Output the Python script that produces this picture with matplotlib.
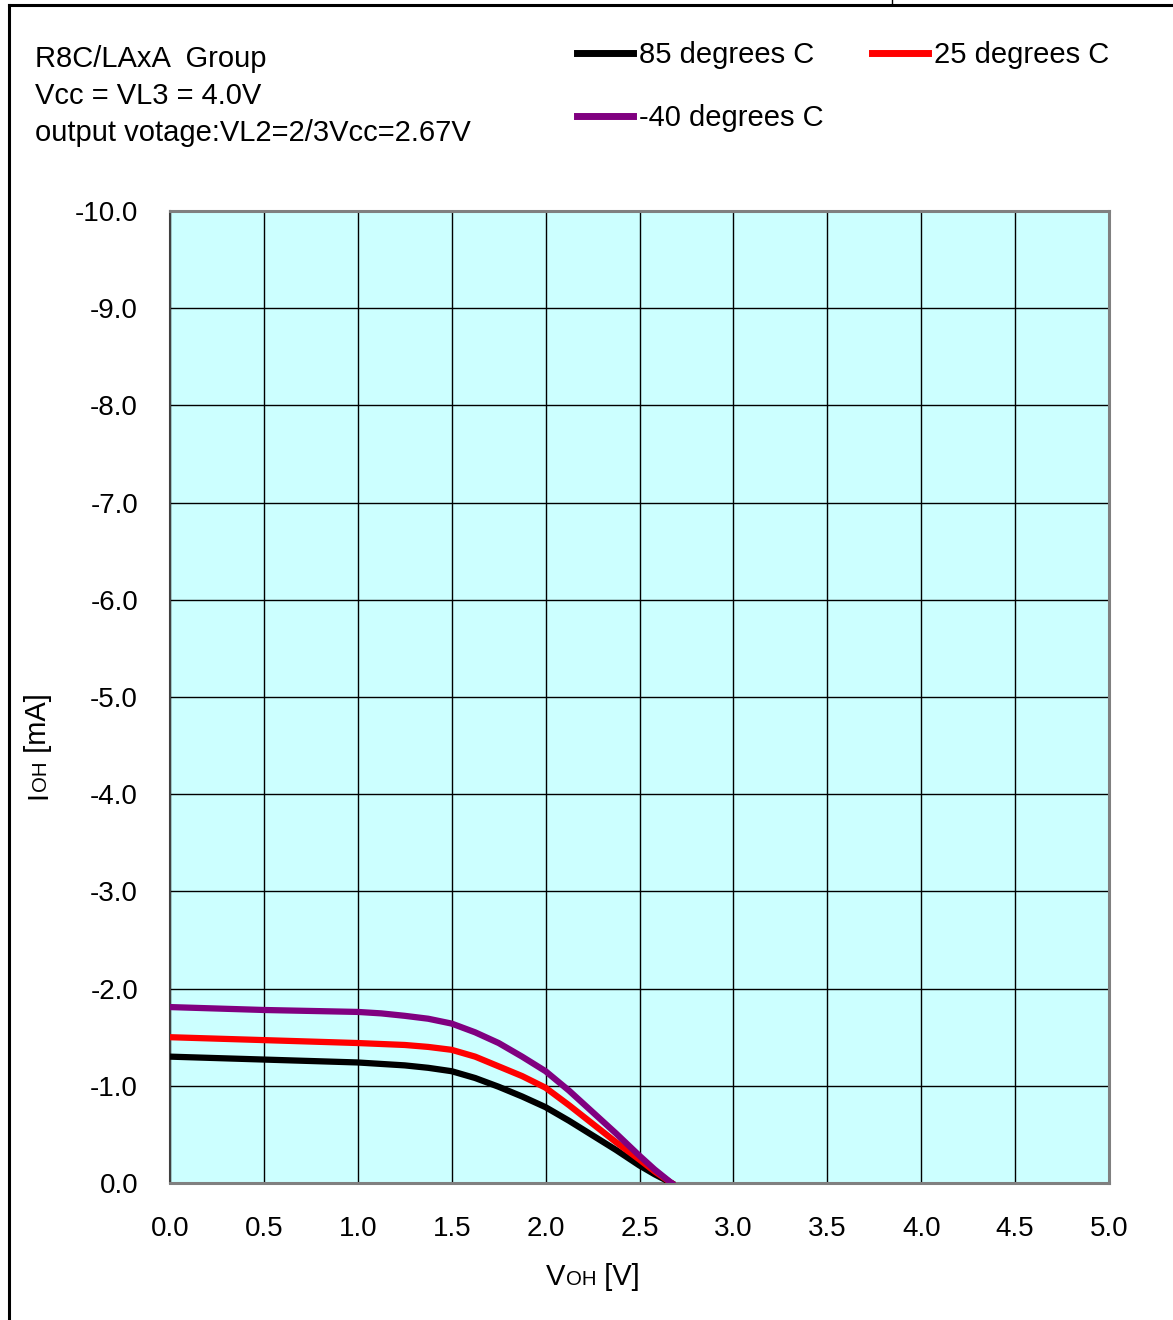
#!/usr/bin/env python
# VOH - IOH characteristics, three temperatures

import numpy as np
import matplotlib
matplotlib.use('Agg')
import matplotlib.pyplot as plt
from matplotlib.lines import Line2D

plt.rcParams['font.family'] = ['Liberation Sans', 'DejaVu Sans']

# data (V, mA)
voh = [0.0, 0.5, 1.0, 1.125, 1.25, 1.375, 1.5, 1.625, 1.75, 1.875, 2.0,
       2.125, 2.25, 2.375, 2.5, 2.58, 2.67]
ioh_85 = [-1.30, -1.27, -1.24, -1.225, -1.21, -1.185, -1.15, -1.08, -0.99, -0.89, -0.78,
          -0.64, -0.49, -0.34, -0.18, -0.09, 0.0]
ioh_25 = [-1.50, -1.47, -1.44, -1.43, -1.42, -1.40, -1.37, -1.30, -1.20, -1.10, -0.98,
          -0.80, -0.61, -0.42, -0.24, -0.12, 0.0]
ioh_m40 = [-1.81, -1.78, -1.76, -1.745, -1.72, -1.69, -1.64, -1.55, -1.44, -1.30, -1.15,
           -0.95, -0.73, -0.51, -0.28, -0.14, 0.0]

x_ticks = np.arange(0, 5.01, 0.5)
y_ticks = np.arange(0, -10.01, -1.0)

info_lines = ['R8C/LAxA  Group', 'Vcc = VL3 = 4.0V', 'output votage:VL2=2/3Vcc=2.67V']

W, H = 1173, 1320
FS = 20      # tick labels
FS_T = 21    # texts and legend

fig = plt.figure(figsize=(W / 100, H / 100), dpi=100)
ax = fig.add_axes([170 / W, 137 / H, 939 / W, 972 / H])
ax.set_facecolor('#CCFFFF')

l85, = ax.plot(voh, ioh_85, color='black', lw=4.5, zorder=3)
l25, = ax.plot(voh, ioh_25, color='#FF0000', lw=4.5, zorder=4)
lm40, = ax.plot(voh, ioh_m40, color='#800080', lw=4.5, zorder=5)

ax.set_xlim(0, 5)
ax.set_ylim(0, -10)
ax.set_xticks(x_ticks)
ax.set_yticks(y_ticks)
ax.set_xticklabels(['%.1f' % v for v in x_ticks])
ax.set_yticklabels(['%.1f' % v if v != 0 else '0.0' for v in y_ticks])
ax.tick_params(axis='both', length=0, labelsize=FS)
ax.tick_params(axis='x', pad=24)
ax.tick_params(axis='y', pad=23)
ax.grid(color='black', lw=1.0)
ax.set_axisbelow(True)
for s in ['top', 'right', 'bottom']:
    ax.spines[s].set_color('#808080')
    ax.spines[s].set_linewidth(2.2)
ax.spines['left'].set_color('#404040')
ax.spines['left'].set_linewidth(1.5)

# info text upper left
for i, t in enumerate(info_lines):
    fig.text(35 / W, 1 - (67 + 37 * i) / H, t, fontsize=FS_T, ha='left', va='baseline')

# legend
leg = fig.legend([l85, lm40, l25], ['85 degrees C', '-40 degrees C', '25 degrees C'],
                 loc='upper left', bbox_to_anchor=(577 / W, 1 - 41 / H), ncol=2,
                 frameon=False, borderpad=0, borderaxespad=0, handlelength=1.92,
                 handletextpad=0.2, columnspacing=1.68, labelspacing=1.2, fontsize=FS_T)
for h in leg.legend_handles:
    h.set_linewidth(5)

# axis labels with small "OH"
renderer = fig.canvas.get_renderer()


def label_parts(parts, x, y, rotation=0):
    texts = []
    for s, size in parts:
        t = fig.text(0, 0, s, fontsize=size, ha='left', va='baseline',
                     rotation=rotation, rotation_mode='anchor')
        texts.append(t)
    lens = []
    for t in texts:
        bb = t.get_window_extent(renderer)
        lens.append(bb.height if rotation else bb.width)
    total = sum(lens)
    pos = -total / 2
    for t, L in zip(texts, lens):
        if rotation:
            t.set_position((x / W, (H - y + pos) / H))
        else:
            t.set_position(((x + pos) / W, 1 - y / H))
        pos += L


label_parts([('V', FS_T), ('OH', FS_T * 0.7), (' [V]', FS_T)], 593, 1285)
label_parts([('I', FS_T), ('OH', FS_T * 0.7), (' [mA]', FS_T)], 46, 746, rotation=90)

# outer frame pieces
fig.add_artist(Line2D([8.5 / W, 8.5 / W], [0, 1 - 5 / H], color='black', lw=2.2))
fig.add_artist(Line2D([8.5 / W, 1], [1 - 5 / H, 1 - 5 / H], color='black', lw=2.2))
fig.add_artist(Line2D([892 / W, 892 / W], [1 - 5 / H, 1], color='black', lw=1.0))

fig.savefig('out.png', dpi=100)
